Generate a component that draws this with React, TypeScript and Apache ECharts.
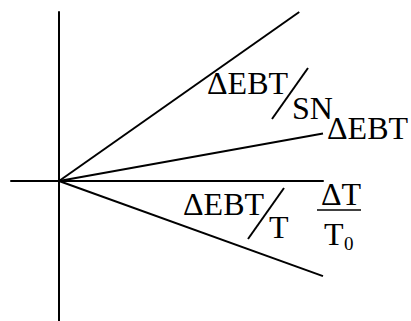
import React, { useEffect, useRef } from "react";
import * as echarts from "echarts";

// Relative temperature change ΔT/T0 along x, EBT change along y.
const lineNames = ["ΔEBT/SN", "ΔEBT", "ΔEBT/T"];
const lineX = [
  [0, 0.91],
  [0, 1.0],
  [0, 1.0],
];
const lineY = [
  [0, 0.64],
  [0, 0.18],
  [0, -0.36],
];
const xRange = [-0.182, 1.0];
const yRange = [-0.53, 0.64];

const FONT = "Liberation Serif";

export default function App() {
  const ref = useRef<HTMLDivElement>(null);

  useEffect(() => {
    if (!ref.current) return;
    const chart = echarts.init(ref.current, undefined, { renderer: "svg" });

    const txt = (text: string, x: number, y: number, size = 32) => ({
      type: "text",
      x,
      y,
      style: {
        text,
        fill: "#000",
        fontFamily: FONT,
        fontSize: size,
        align: "left",
        verticalAlign: "middle",
      },
    });
    const seg = (x1: number, y1: number, x2: number, y2: number, w = 2) => ({
      type: "line",
      shape: { x1, y1, x2, y2 },
      style: { stroke: "#000", lineWidth: w },
    });

    chart.setOption({
      animation: false,
      backgroundColor: "#fff",
      grid: { left: 11, right: 88, top: 12, bottom: 0, containLabel: false },
      xAxis: {
        type: "value",
        min: xRange[0],
        max: xRange[1],
        axisLine: { onZero: true, lineStyle: { color: "#000", width: 2 } },
        axisTick: { show: false },
        axisLabel: { show: false },
        splitLine: { show: false },
      },
      yAxis: {
        type: "value",
        min: yRange[0],
        max: yRange[1],
        axisLine: { onZero: true, lineStyle: { color: "#000", width: 2 } },
        axisTick: { show: false },
        axisLabel: { show: false },
        splitLine: { show: false },
      },
      series: lineNames.map((name, i) => ({
        name,
        type: "line",
        data: lineX[i].map((x, j) => [x, lineY[i][j]]),
        showSymbol: false,
        lineStyle: { color: "#000", width: 2 },
        silent: true,
      })),
      graphic: [
        txt("ΔEBT", 207, 83),
        seg(272, 119, 308, 68),
        txt("SN", 292, 108),
        txt("ΔEBT", 327, 128),
        txt("ΔEBT", 183, 204),
        seg(248, 239, 284, 188),
        txt("T", 269, 227),
        txt("ΔT", 321, 194),
        seg(317, 210, 361, 210, 1.5),
        txt("T", 324, 234),
        txt("0", 344, 243.6, 19),
      ],
    });

    return () => chart.dispose();
  }, []);

  return (
    <div
      ref={ref}
      style={{ position: "fixed", left: 0, top: 0, width: 411, height: 321 }}
    />
  );
}
